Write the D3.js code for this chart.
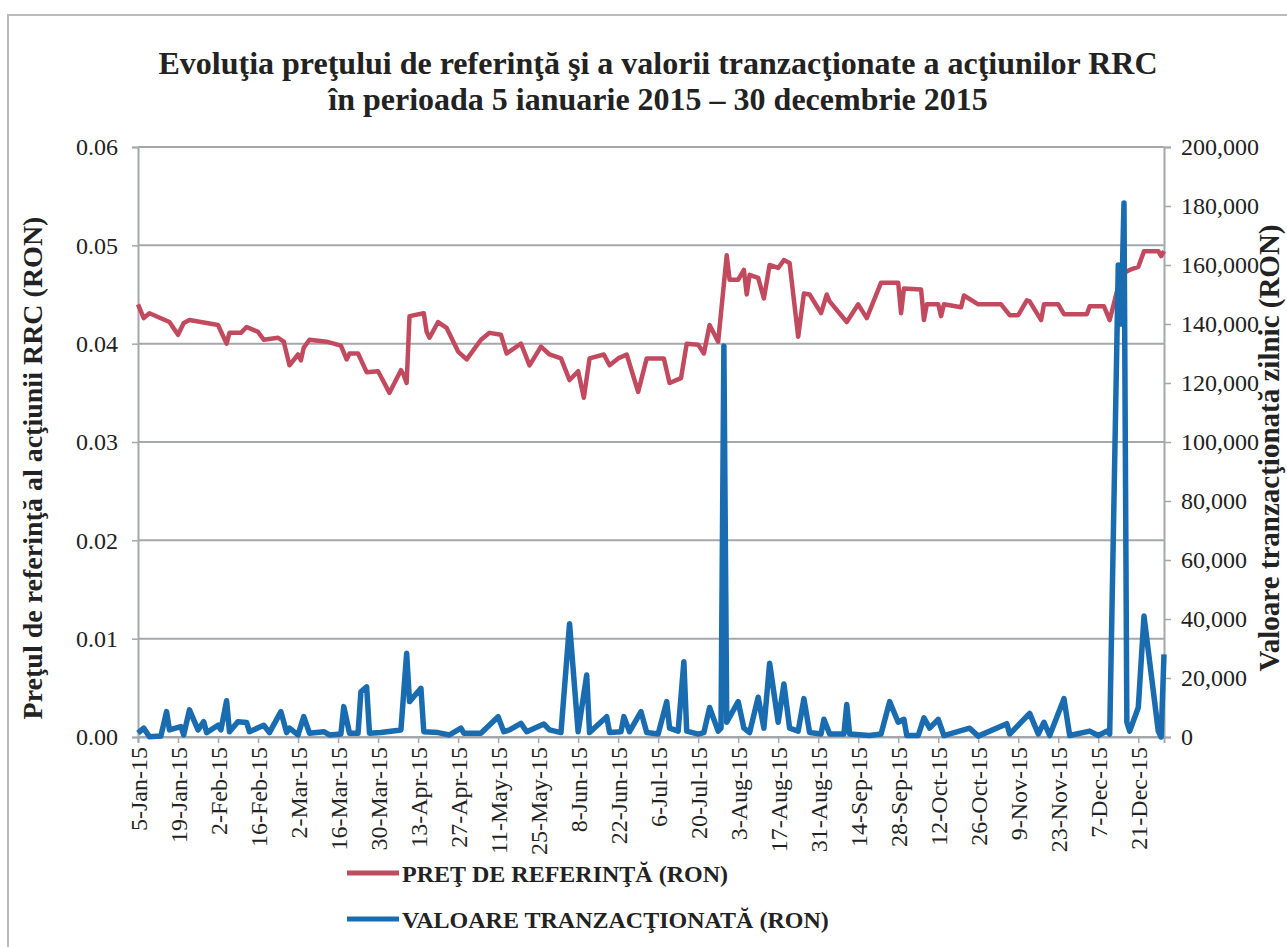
<!DOCTYPE html>
<html>
<head>
<meta charset="utf-8">
<script src="https://cdn.jsdelivr.net/npm/d3@7"></script>
<style>
    body { margin: 0; background: #fff; }
    svg { display: block; font-family: 'Liberation Serif', 'Times New Roman', serif; }
</style>
</head>
<body>
<svg width="1287" height="947"></svg>
<script>
// pretul de referinta (RON)
let priceSeries = [
    ['2015-01-05', 0.0440], ['2015-01-07', 0.0426], ['2015-01-09', 0.0431], ['2015-01-16', 0.0422],
    ['2015-01-19', 0.0409], ['2015-01-21', 0.0421], ['2015-01-23', 0.0424], ['2015-02-02', 0.0419],
    ['2015-02-05', 0.0400], ['2015-02-06', 0.0411], ['2015-02-10', 0.0411], ['2015-02-12', 0.0417],
    ['2015-02-16', 0.0412], ['2015-02-18', 0.0404], ['2015-02-23', 0.0406], ['2015-02-25', 0.0402],
    ['2015-02-27', 0.0378], ['2015-03-02', 0.0389], ['2015-03-03', 0.0383], ['2015-03-04', 0.0396],
    ['2015-03-06', 0.0404], ['2015-03-12', 0.0402], ['2015-03-17', 0.0398], ['2015-03-19', 0.0384],
    ['2015-03-20', 0.0390], ['2015-03-23', 0.0390], ['2015-03-26', 0.0371], ['2015-03-30', 0.0372],
    ['2015-04-03', 0.0350], ['2015-04-07', 0.0373], ['2015-04-08', 0.0368], ['2015-04-09', 0.0360],
    ['2015-04-10', 0.0428], ['2015-04-15', 0.0431], ['2015-04-16', 0.0412], ['2015-04-17', 0.0406],
    ['2015-04-20', 0.0422], ['2015-04-23', 0.0416], ['2015-04-27', 0.0392], ['2015-04-30', 0.0384],
    ['2015-05-05', 0.0404], ['2015-05-08', 0.0411], ['2015-05-12', 0.0409], ['2015-05-14', 0.0390],
    ['2015-05-19', 0.0400], ['2015-05-22', 0.0378], ['2015-05-26', 0.0397], ['2015-05-29', 0.0389],
    ['2015-06-02', 0.0385], ['2015-06-05', 0.0363], ['2015-06-08', 0.0372], ['2015-06-10', 0.0345],
    ['2015-06-12', 0.0385], ['2015-06-17', 0.0389], ['2015-06-19', 0.0378], ['2015-06-22', 0.0385],
    ['2015-06-25', 0.0389], ['2015-06-29', 0.0351], ['2015-07-02', 0.0385], ['2015-07-08', 0.0385],
    ['2015-07-10', 0.0360], ['2015-07-14', 0.0365], ['2015-07-16', 0.0400], ['2015-07-20', 0.0399],
    ['2015-07-22', 0.0390], ['2015-07-24', 0.0419], ['2015-07-27', 0.0402], ['2015-07-30', 0.0490],
    ['2015-07-31', 0.0465], ['2015-08-03', 0.0465], ['2015-08-05', 0.0475], ['2015-08-06', 0.0450],
    ['2015-08-07', 0.0470], ['2015-08-10', 0.0467], ['2015-08-12', 0.0446], ['2015-08-14', 0.0480],
    ['2015-08-17', 0.0477], ['2015-08-19', 0.0485], ['2015-08-21', 0.0482], ['2015-08-24', 0.0407],
    ['2015-08-26', 0.0451], ['2015-08-28', 0.0450], ['2015-09-01', 0.0431], ['2015-09-03', 0.0450],
    ['2015-09-04', 0.0443], ['2015-09-10', 0.0422], ['2015-09-14', 0.0440], ['2015-09-17', 0.0426],
    ['2015-09-22', 0.0462], ['2015-09-28', 0.0462], ['2015-09-29', 0.0431], ['2015-09-30', 0.0456],
    ['2015-10-06', 0.0455], ['2015-10-07', 0.0424], ['2015-10-08', 0.0440], ['2015-10-12', 0.0440],
    ['2015-10-13', 0.0428], ['2015-10-14', 0.0440], ['2015-10-20', 0.0437], ['2015-10-21', 0.0449],
    ['2015-10-26', 0.0440], ['2015-11-03', 0.0440], ['2015-11-06', 0.0429], ['2015-11-09', 0.0429],
    ['2015-11-12', 0.0444], ['2015-11-13', 0.0443], ['2015-11-17', 0.0424], ['2015-11-18', 0.0440],
    ['2015-11-23', 0.0440], ['2015-11-25', 0.0430], ['2015-12-03', 0.0430], ['2015-12-04', 0.0438],
    ['2015-12-09', 0.0438], ['2015-12-11', 0.0424], ['2015-12-15', 0.0470], ['2015-12-18', 0.0475],
    ['2015-12-21', 0.0478], ['2015-12-23', 0.0494], ['2015-12-28', 0.0494], ['2015-12-29', 0.0489],
    ['2015-12-30', 0.0494]
]

// valoare tranzactionata zilnic (RON)
let valueSeries = [
    ['2015-01-05', 1300], ['2015-01-07', 3000], ['2015-01-09', 100], ['2015-01-13', 300],
    ['2015-01-15', 8600], ['2015-01-16', 2400], ['2015-01-20', 3500], ['2015-01-21', 700],
    ['2015-01-23', 9200], ['2015-01-26', 2400], ['2015-01-28', 5200], ['2015-01-29', 1500],
    ['2015-02-02', 4000], ['2015-02-03', 2400], ['2015-02-05', 12300], ['2015-02-06', 1800],
    ['2015-02-09', 5200], ['2015-02-12', 4900], ['2015-02-13', 1800], ['2015-02-18', 4000],
    ['2015-02-20', 1500], ['2015-02-24', 8600], ['2015-02-26', 1500], ['2015-02-27', 3000],
    ['2015-03-02', 700], ['2015-03-04', 6900], ['2015-03-06', 1300], ['2015-03-11', 1800],
    ['2015-03-13', 700], ['2015-03-17', 1000], ['2015-03-18', 10300], ['2015-03-20', 1300],
    ['2015-03-23', 1300], ['2015-03-24', 15300], ['2015-03-26', 17000], ['2015-03-27', 1300],
    ['2015-03-31', 1500], ['2015-04-07', 2400], ['2015-04-09', 28400], ['2015-04-10', 12000],
    ['2015-04-14', 16500], ['2015-04-15', 1800], ['2015-04-20', 1500], ['2015-04-24', 700],
    ['2015-04-28', 3000], ['2015-04-29', 1300], ['2015-05-05', 1300], ['2015-05-11', 6900],
    ['2015-05-13', 1800], ['2015-05-15', 2400], ['2015-05-19', 4600], ['2015-05-21', 1800],
    ['2015-05-27', 4400], ['2015-05-29', 2400], ['2015-06-02', 1500], ['2015-06-05', 38400],
    ['2015-06-08', 1800], ['2015-06-11', 21000], ['2015-06-12', 1500], ['2015-06-18', 6900],
    ['2015-06-19', 1500], ['2015-06-23', 1800], ['2015-06-24', 6900], ['2015-06-26', 1800],
    ['2015-06-30', 8600], ['2015-07-02', 1500], ['2015-07-06', 1000], ['2015-07-09', 12000],
    ['2015-07-10', 3000], ['2015-07-13', 2000], ['2015-07-15', 25500], ['2015-07-16', 2000],
    ['2015-07-20', 1000], ['2015-07-22', 1500], ['2015-07-24', 10000], ['2015-07-27', 2000],
    ['2015-07-28', 3000], ['2015-07-29', 132500], ['2015-07-30', 5000], ['2015-08-03', 12000],
    ['2015-08-05', 3000], ['2015-08-07', 1500], ['2015-08-10', 13500], ['2015-08-12', 3000],
    ['2015-08-14', 25000], ['2015-08-17', 5000], ['2015-08-19', 18000], ['2015-08-21', 3000],
    ['2015-08-24', 2000], ['2015-08-26', 13000], ['2015-08-28', 1500], ['2015-09-01', 1000],
    ['2015-09-02', 6000], ['2015-09-04', 1000], ['2015-09-09', 1000], ['2015-09-10', 11000],
    ['2015-09-11', 1000], ['2015-09-18', 500], ['2015-09-22', 1000], ['2015-09-25', 12000],
    ['2015-09-28', 5000], ['2015-09-30', 6000], ['2015-10-01', 500], ['2015-10-05', 500],
    ['2015-10-07', 6500], ['2015-10-09', 3000], ['2015-10-12', 6000], ['2015-10-14', 500],
    ['2015-10-23', 3000], ['2015-10-26', 300], ['2015-11-05', 4500], ['2015-11-06', 1000],
    ['2015-11-13', 8000], ['2015-11-16', 1000], ['2015-11-18', 5000], ['2015-11-20', 500],
    ['2015-11-25', 13000], ['2015-11-27', 500], ['2015-12-04', 2000], ['2015-12-07', 500],
    ['2015-12-10', 2000], ['2015-12-11', 1000], ['2015-12-14', 160000], ['2015-12-15', 140000],
    ['2015-12-16', 181000], ['2015-12-17', 5000], ['2015-12-18', 2000], ['2015-12-21', 10000],
    ['2015-12-23', 41000], ['2015-12-28', 2000], ['2015-12-29', 0], ['2015-12-30', 28000]
]

let tickDates = [
    '2015-01-05', '2015-01-19', '2015-02-02', '2015-02-16', '2015-03-02', '2015-03-16',
    '2015-03-30', '2015-04-13', '2015-04-27', '2015-05-11', '2015-05-25', '2015-06-08',
    '2015-06-22', '2015-07-06', '2015-07-20', '2015-08-03', '2015-08-17', '2015-08-31',
    '2015-09-14', '2015-09-28', '2015-10-12', '2015-10-26', '2015-11-09', '2015-11-23',
    '2015-12-07', '2015-12-21'
]
let priceTicks = [0, 0.01, 0.02, 0.03, 0.04, 0.05, 0.06]
let valueTicks = [0, 20000, 40000, 60000, 80000, 100000, 120000, 140000, 160000, 180000, 200000]

let titleLines = [
    'Evoluţia preţului de referinţă şi a valorii tranzacţionate a acţiunilor RRC',
    'în perioada 5 ianuarie 2015 – 30 decembrie 2015'
]
let seriesNames = ['PREŢ DE REFERINŢĂ (RON)', 'VALOARE TRANZACŢIONATĂ (RON)']
let seriesColors = ['#c24a5e', '#1a6cb0']

let parse = d3.timeParse('%Y-%m-%d')
let fmt = d3.timeFormat('%-d-%b-%y')

let svg = d3.select('svg')
let plot = {left: 138, right: 1164, top: 147, bottom: 737}
let gridColor = '#a4a7ab'
let textColor = '#222'

// rama exterioara
svg.append('path')
    .attr('d', 'M8,947 L8,15 L1287,15')
    .attr('fill', 'none')
    .attr('stroke', '#b9bbbd')
    .attr('stroke-width', 2)

let x = d3.scaleTime()
    .domain([parse('2015-01-05'), parse('2015-12-30')])
    .range([plot.left, plot.right])
let y = d3.scaleLinear().domain([0, 0.06]).range([plot.bottom, plot.top])
let y2 = d3.scaleLinear().domain([0, 200000]).range([plot.bottom, plot.top])

// titlu
svg.append('g')
    .selectAll('text')
    .data(titleLines)
    .enter().append('text')
    .attr('x', 658)
    .attr('y', (d, i) => 74 + i * 36)
    .attr('text-anchor', 'middle')
    .attr('font-size', 32)
    .attr('font-weight', 'bold')
    .attr('fill', textColor)
    .text(d => d)

// grila
svg.append('g')
    .selectAll('line')
    .data(priceTicks)
    .enter().append('line')
    .attr('x1', plot.left)
    .attr('x2', plot.right)
    .attr('y1', d => y(d))
    .attr('y2', d => y(d))
    .attr('stroke', gridColor)
    .attr('stroke-width', 2)

// axe
let axisLeft = svg.append('g')
    .attr('transform', 'translate(' + plot.left + ',0)')
    .call(d3.axisLeft(y).tickValues(priceTicks).tickFormat(d3.format('.2f')).tickSize(6).tickPadding(14))
let axisRight = svg.append('g')
    .attr('transform', 'translate(' + plot.right + ',0)')
    .call(d3.axisRight(y2).tickValues(valueTicks).tickFormat(d3.format(',')).tickSize(7).tickPadding(10))
let axisBottom = svg.append('g')
    .attr('transform', 'translate(0,' + plot.bottom + ')')
    .call(d3.axisBottom(x).tickValues(tickDates.map(parse)).tickFormat(fmt).tickSize(6))

for (let ax of [axisLeft, axisRight, axisBottom]) {
    ax.select('.domain').attr('stroke', gridColor).attr('stroke-width', 2)
    ax.selectAll('.tick line').attr('stroke', gridColor).attr('stroke-width', 1.5)
    ax.selectAll('text')
        .attr('font-family', "'Liberation Serif', 'Times New Roman', serif")
        .attr('font-size', 24)
        .attr('fill', textColor)
}

axisBottom.selectAll('text')
    .attr('transform', 'rotate(-90)')
    .attr('text-anchor', 'end')
    .attr('x', -10)
    .attr('y', 0)
    .attr('dy', '0.35em')

// titluri axe
svg.append('text')
    .attr('transform', 'translate(42,468) rotate(-90)')
    .attr('text-anchor', 'middle')
    .attr('font-size', 28)
    .attr('font-weight', 'bold')
    .attr('fill', textColor)
    .text('Preţul de referinţă al acţiunii RRC (RON)')

svg.append('text')
    .attr('transform', 'translate(1279,448) rotate(-90)')
    .attr('text-anchor', 'middle')
    .attr('font-size', 29)
    .attr('font-weight', 'bold')
    .attr('fill', textColor)
    .text('Valoare tranzacţionată zilnic (RON)')

// linii
let priceLine = d3.line()
    .x(d => x(parse(d[0])))
    .y(d => y(d[1]))
let valueLine = d3.line()
    .x(d => x(parse(d[0])))
    .y(d => y2(d[1]))

svg.append('path')
    .datum(priceSeries)
    .attr('d', priceLine)
    .attr('fill', 'none')
    .attr('stroke', seriesColors[0])
    .attr('stroke-width', 4.5)
    .attr('stroke-linejoin', 'round')

svg.append('path')
    .datum(valueSeries)
    .attr('d', valueLine)
    .attr('fill', 'none')
    .attr('stroke', seriesColors[1])
    .attr('stroke-width', 5.5)
    .attr('stroke-linejoin', 'round')

// legenda
let legend = svg.append('g')
    .selectAll('g')
    .data(seriesNames)
    .enter().append('g')
    .attr('transform', (d, i) => 'translate(347,' + (873 + i * 46) + ')')

legend.append('line')
    .attr('x1', 0)
    .attr('x2', 52)
    .attr('stroke', (d, i) => seriesColors[i])
    .attr('stroke-width', 5)

legend.append('text')
    .attr('x', 55)
    .attr('y', 9)
    .attr('font-size', 24)
    .attr('font-weight', 'bold')
    .attr('fill', textColor)
    .text(d => d)
</script>
</body>
</html>
